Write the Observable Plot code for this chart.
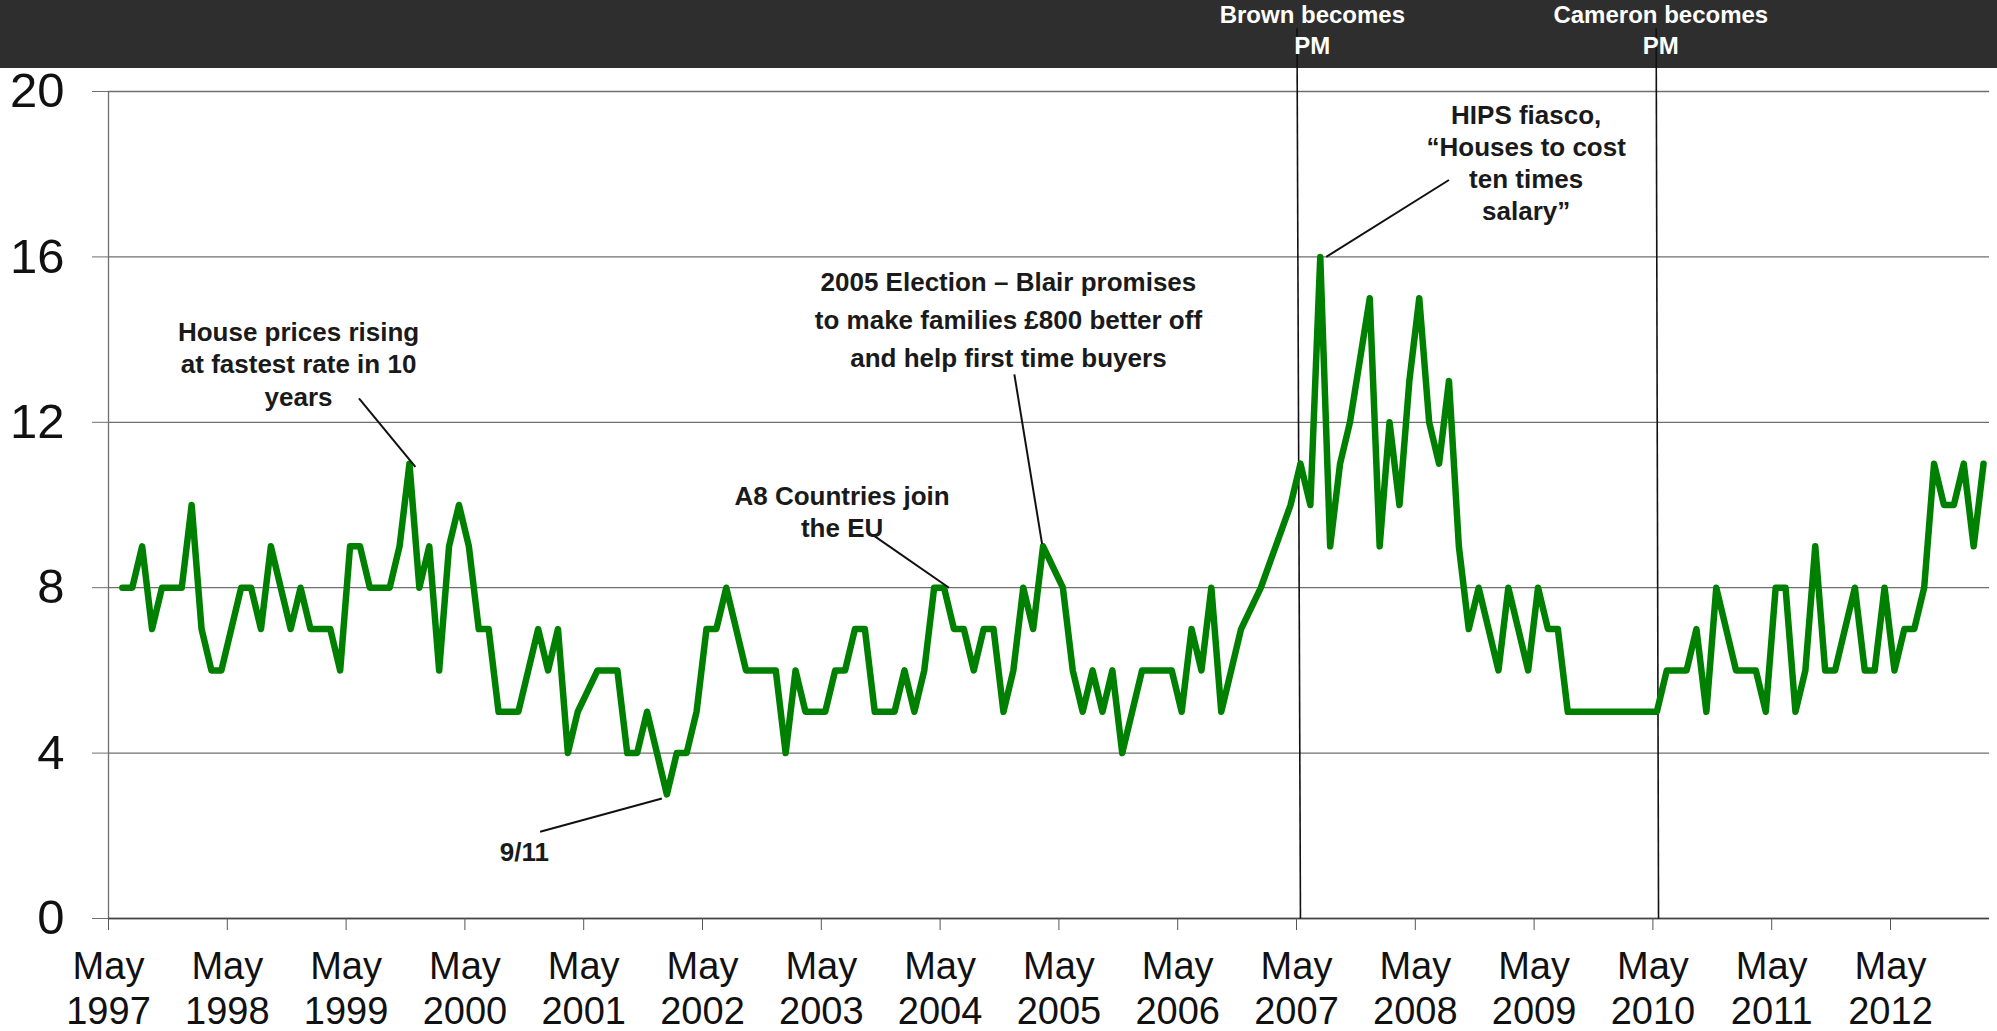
<!DOCTYPE html>
<html>
<head>
<meta charset="utf-8">
<script src="https://cdn.jsdelivr.net/npm/d3@7"></script>
<script src="https://cdn.jsdelivr.net/npm/@observablehq/plot@0.6"></script>
<style>
  html, body { margin: 0; padding: 0; background: #ffffff; overflow: hidden; }
  #wrap { position: relative; width: 1997px; height: 1031px; }
  #header { position: absolute; left: 0; top: 0; width: 1997px; height: 68px; background: #2e2e2e; }
  #chart { position: absolute; left: 0; top: 0; }
</style>
</head>
<body>
<div id="wrap">
  <div id="header"></div>
  <div id="chart"></div>
</div>
<script>
// ---- Data (monthly series, first observation ~1.4 months after May 1997) ----
const firstMonth = 1.4; // months after May 1997 of the first observation
const values = [
  8, 8, 9, 7, 8, 8, 8, 10, 7, 6,
  6, 7, 8, 8, 7, 9, 8, 7, 8, 7,
  7, 7, 6, 9, 9, 8, 8, 8, 9, 11,
  8, 9, 6, 9, 10, 9, 7, 7, 5, 5,
  5, 6, 7, 6, 7, 4, 5, null, 6, 6,
  6, 4, 4, 5, 4, 3, 4, 4, 5, 7,
  7, 8, 7, 6, 6, 6, 6, 4, 6, 5,
  5, 5, 6, 6, 7, 7, 5, 5, 5, 6,
  5, 6, 8, 8, 7, 7, 6, 7, 7, 5,
  6, 8, 7, 9, null, 8, 6, 5, 6, 5,
  6, 4, 5, 6, 6, 6, 6, 5, 7, 6,
  8, 5, 6, 7, null, 8, null, null, 10, 11,
  10, 16, 9, 11, 12, null, 15, 9, 12, 10,
  13, 15, 12, 11, 13, 9, 7, 8, 7, 6,
  8, 7, 6, 8, 7, 7, 5, 5, 5, 5,
  5, 5, 5, 5, 5, 5, 6, 6, 6, 7,
  5, 8, 7, 6, 6, 6, 5, 8, 8, 5,
  6, 9, 6, 6, 7, 8, 6, 6, 8, 6,
  7, 7, 8, 11, 10, 10, 11, 9, 11
];

const xTickMonths = [0, 12, 24, 36, 48, 60, 72, 84, 96, 108, 120, 132, 144, 156, 168, 180];
const xTickLabels = ["May\n1997", "May\n1998", "May\n1999", "May\n2000", "May\n2001", "May\n2002",
  "May\n2003", "May\n2004", "May\n2005", "May\n2006", "May\n2007", "May\n2008",
  "May\n2009", "May\n2010", "May\n2011", "May\n2012"];
const yTicks = [0, 4, 8, 12, 16, 20];

// Annotations (text anchored in month / value units)
const noteTexts = [
  "House prices rising\nat fastest rate in 10\nyears",
  "9/11",
  "A8 Countries join\nthe EU",
  "2005 Election \u2013 Blair promises\nto make families \u00a3800 better off\nand help first time buyers",
  "HIPS fiasco,\n\u201cHouses to cost\nten times\nsalary\u201d"
];
const noteMonth = [19.2, 42.0, 74.1, 90.9, 143.2];
const noteValue = [13.43, 1.64, 9.85, 14.55, 18.30];
const noteLineHeight = [1.24, 1.2, 1.22, 1.47, 1.24];
// leader lines: from text to data point
const leaderFromMonth = [25.3, 43.6, 77.3, 91.5, 135.4];
const leaderFromValue = [12.58, 2.10, 9.26, 13.16, 17.86];
const leaderToMonth = [31.0, 55.9, 84.9, 94.3, 123.0];
const leaderToValue = [10.92, 2.90, 8.0, 9.06, 16.0];

// Events (vertical lines with header labels)
const eventTexts = ["Brown becomes\nPM", "Cameron becomes\nPM"];
const eventMonthBottom = [120.4, 156.57];
const eventMonthTop = [120.05, 156.33];
const eventLabelMonth = [121.6, 156.8];
const eventTopValue = 21.53;
const eventLabelValue = 21.53;

// ---- Build tables ----
const rows = values
  .map((v, i) => ({month: firstMonth + i, value: v}))
  .filter(d => d.value != null);
const notes = noteTexts.map((t, i) => ({
  text: t, x: noteMonth[i], y: noteValue[i], lh: noteLineHeight[i],
  x1: leaderFromMonth[i], y1: leaderFromValue[i], x2: leaderToMonth[i], y2: leaderToValue[i]
}));
const events = eventTexts.map((t, i) => ({
  text: t, xb: eventMonthBottom[i], xt: eventMonthTop[i], xl: eventLabelMonth[i]
}));

const FONT = "'Liberation Sans', Arial, Helvetica, sans-serif";

const textMarks = notes.map(n => Plot.text([n], {
  x: "x", y: "y", text: "text",
  fontSize: 26, fontWeight: "bold", fill: "#1a1a1a",
  lineHeight: n.lh, textAnchor: "middle", lineAnchor: "middle"
}));

const chart = Plot.plot({
  width: 1997,
  height: 1031,
  marginLeft: 108,
  marginRight: 8,
  marginTop: 91,
  marginBottom: 113,
  style: {background: "transparent", fontFamily: FONT, overflow: "visible"},
  x: {domain: [0, 190]},
  y: {domain: [0, 20]},
  marks: [
    Plot.gridY(yTicks, {stroke: "#6f6f6f", strokeOpacity: 1, strokeWidth: 1.3}),
    Plot.axisY(yTicks, {
      tickSize: 16, tickPadding: 28, fontSize: 49, stroke: "#6f6f6f", fill: "#111",
      tickFormat: d => String(d), label: null
    }),
    Plot.ruleX([0], {stroke: "#6f6f6f", strokeWidth: 1.3}),
    Plot.ruleY([0], {stroke: "#444", strokeWidth: 1.5}),
    Plot.axisX(xTickMonths, {
      tickSize: 12, tickPadding: 17, fontSize: 38, lineHeight: 1.18, stroke: "#555", fill: "#111",
      tickFormat: d => xTickLabels[xTickMonths.indexOf(d)], label: null
    }),
    Plot.link(events, {x1: "xb", y1: 0, x2: "xt", y2: eventTopValue, stroke: "#111", strokeWidth: 1.6}),
    Plot.line(rows, {
      x: "month", y: "value", stroke: "#008000", strokeWidth: 6.5,
      strokeLinejoin: "round", strokeLinecap: "round"
    }),
    Plot.link(notes, {x1: "x1", y1: "y1", x2: "x2", y2: "y2", stroke: "#111", strokeWidth: 2}),
    ...textMarks,
    Plot.text(events, {
      x: "xl", y: eventLabelValue, text: "text", fontSize: 24, fontWeight: "bold",
      fill: "#ffffff", lineHeight: 1.33, textAnchor: "middle", lineAnchor: "middle"
    })
  ]
});
document.getElementById("chart").appendChild(chart);
</script>
</body>
</html>
